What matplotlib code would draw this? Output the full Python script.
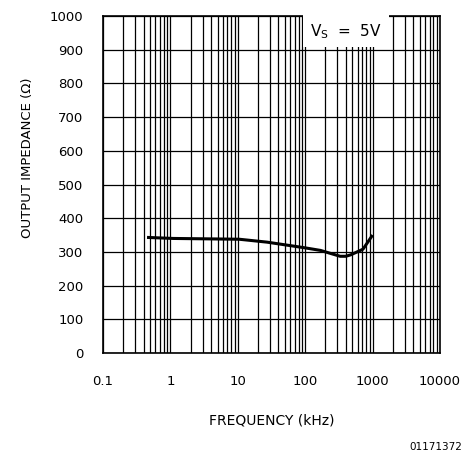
import numpy as np
import matplotlib.pyplot as plt
from matplotlib.ticker import FixedLocator, LogLocator, NullFormatter

# curve (kHz, ohms)
freq_khz = [0.45, 1, 3, 10, 25, 75, 165, 250, 330, 400, 470, 720, 1000]
z_out = [343, 340, 339, 338, 330, 316, 305, 294, 287, 287, 291, 308, 350]

x_ticks = [0.1, 1, 10, 100, 1000, 10000]
x_ticklabels = ["0.1", "1", "10", "100", "1000", "10000"]
y_ticks = list(range(0, 1001, 100))

plt.rcParams['font.family'] = ['DejaVu Sans']

fig = plt.figure(figsize=(4.67, 4.55), dpi=100)
ax = fig.add_axes([103 / 467, 1 - 353 / 455, 337 / 467, 337 / 455])

ax.set_xscale('log')
ax.set_xlim(0.1, 10000)
ax.set_ylim(0, 1000)

ax.xaxis.set_major_locator(FixedLocator(x_ticks))
ax.set_xticklabels(x_ticklabels)
ax.xaxis.set_minor_locator(LogLocator(base=10, subs=np.arange(2, 10)))
ax.xaxis.set_minor_formatter(NullFormatter())
ax.set_yticks(y_ticks)

ax.grid(True, which='both', axis='x', color='black', linewidth=0.9)
ax.grid(True, which='major', axis='y', color='black', linewidth=0.9)
ax.tick_params(which='both', length=0, labelsize=9.5)
ax.tick_params(axis='x', pad=16)
ax.tick_params(axis='y', pad=14)
for s in ax.spines.values():
    s.set_linewidth(1.2)

# smooth curve through the read points (interpolated in log-frequency for drawing only)
lf = np.log10(freq_khz)
xs = np.linspace(lf[0], lf[-1], 300)
ax.plot(10 ** xs, np.interp(xs, lf, z_out), color='black', linewidth=2.2,
        solid_capstyle='butt', zorder=5)

# legend-like label with white background breaking the grid
ax.text(0.72, 0.955, "V$_{\\mathrm{S}}$  =  5V", transform=ax.transAxes,
        ha='center', va='center', fontsize=11,
        bbox=dict(facecolor='white', edgecolor='none', pad=5), zorder=6)

fig.text(28 / 467, 1 - 158 / 455, "OUTPUT IMPEDANCE (\u03a9)", rotation=90,
         ha='center', va='center', fontsize=9.5)
fig.text(272 / 467, 1 - 420 / 455, "FREQUENCY (kHz)", ha='center', va='center',
         fontsize=10)
fig.text(462 / 467, 1 - 447 / 455, "01171372", ha='right', va='center', fontsize=7.5)

fig.savefig('out.png', dpi=100)
